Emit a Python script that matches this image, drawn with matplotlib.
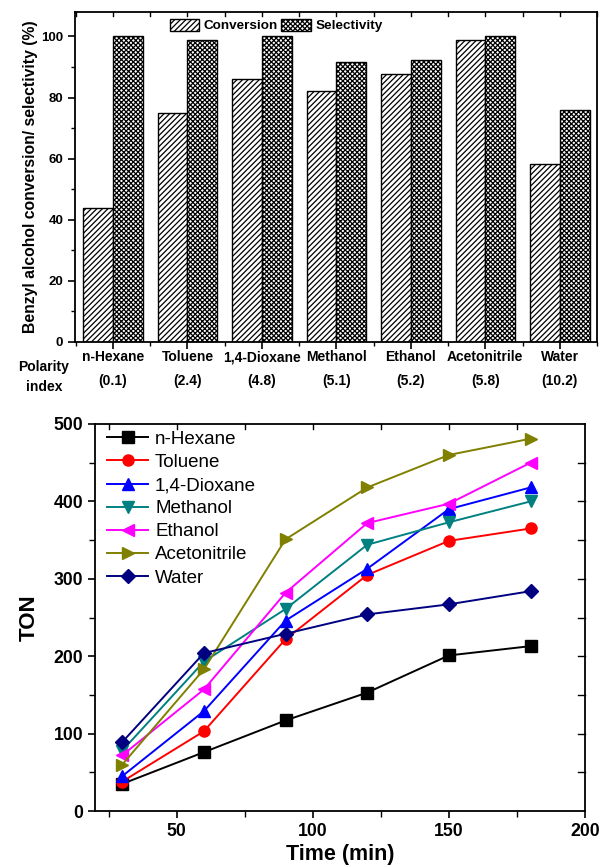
import matplotlib
matplotlib.use("Agg")
import matplotlib.pyplot as plt
import numpy as np

plt.rcParams['font.family'] = ['Liberation Sans', 'DejaVu Sans']
plt.rcParams['hatch.linewidth'] = 0.9

# top panel: conversion / selectivity per solvent
solvents = ["n-Hexane", "Toluene", "1,4-Dioxane", "Methanol", "Ethanol", "Acetonitrile", "Water"]
polarity = ["(0.1)", "(2.4)", "(4.8)", "(5.1)", "(5.2)", "(5.8)", "(10.2)"]
conversion = [44.0, 75.0, 86.0, 82.3, 87.7, 98.8, 58.3]
selectivity = [100.0, 99.0, 100.0, 91.8, 92.3, 100.0, 76.0]

# bottom panel: TON vs time
time_min = [30, 60, 90, 120, 150, 180]
ton_hexane = [35, 76, 117, 153, 201, 213]
ton_toluene = [38, 103, 222, 305, 349, 365]
ton_dioxane = [45, 129, 246, 313, 390, 418]
ton_methanol = [78, 193, 261, 344, 373, 400]
ton_ethanol = [72, 157, 282, 372, 397, 450]
ton_acetonitrile = [60, 183, 351, 418, 460, 481]
ton_water = [89, 204, 229, 254, 267, 284]

fig = plt.figure(figsize=(6.0, 8.67), dpi=100)

# ---------- top bar chart ----------
ax1 = fig.add_axes([75 / 600, 525 / 867, 522 / 600, 330 / 867])
x = np.arange(len(solvents))
w = 0.4
ax1.bar(x - w / 2, conversion, w, color="white", edgecolor="black", hatch="//////",
        linewidth=1.0, label="Conversion")
ax1.bar(x + w / 2, selectivity, w, color="white", edgecolor="black", hatch="xxxxxxx",
        linewidth=1.0, label="Selectivity")
ax1.set_xlim(-0.51, 6.46)
ax1.set_ylim(0, 108)
ax1.set_yticks(np.arange(0, 101, 20))
ax1.set_yticks(np.arange(10, 101, 20), minor=True)
ax1.set_xticks(x)
ax1.set_xticks(np.arange(-0.5, 7, 1), minor=True)
ax1.set_xticklabels([])
ax1.tick_params(axis="both", which="major", direction="out", length=5, width=1.2,
                labelsize=9.5, top=False, right=False)
ax1.tick_params(axis="both", which="minor", direction="out", length=3, width=1.0,
                top=False, right=False)
for t in ax1.get_yticklabels():
    t.set_fontweight("bold")
# inward ticks on the top spine
for xv in np.arange(-0.5, 7, 0.5):
    ax1.plot([xv, xv], [108, 106.6], color="black", lw=1.0, clip_on=False)
for s in ax1.spines.values():
    s.set_linewidth(1.3)
ax1.set_ylabel("Benzyl alcohol conversion/ selectivity (%)", fontsize=11.3, fontweight="bold", labelpad=2)
for i in range(len(solvents)):
    ax1.annotate(solvents[i], xy=(x[i], 0), xycoords=("data", "axes fraction"),
                 xytext=(0, -15), textcoords="offset pixels", ha="center", va="center",
                 fontsize=10, fontweight="bold")
    ax1.annotate(polarity[i], xy=(x[i], 0), xycoords=("data", "axes fraction"),
                 xytext=(0, -39), textcoords="offset pixels", ha="center", va="center",
                 fontsize=10, fontweight="bold")
fig.text(44 / 600, 1 - 367 / 867, "Polarity", ha="center", va="center", fontsize=10, fontweight="bold")
fig.text(44 / 600, 1 - 387 / 867, "index", ha="center", va="center", fontsize=10, fontweight="bold")
ax1.legend(loc="upper center", bbox_to_anchor=(0.385, 1.017), ncol=2, frameon=False,
           prop={"weight": "bold", "size": 9.7}, handlelength=2.2, handleheight=1.0,
           columnspacing=0.3, handletextpad=0.3)

# ---------- bottom line chart ----------
ax2 = fig.add_axes([95 / 600, 56 / 867, 490 / 600, 387 / 867])
series = [
    ("n-Hexane", ton_hexane, "black", "s"),
    ("Toluene", ton_toluene, "red", "o"),
    ("1,4-Dioxane", ton_dioxane, "blue", "^"),
    ("Methanol", ton_methanol, "#008080", "v"),
    ("Ethanol", ton_ethanol, "magenta", "<"),
    ("Acetonitrile", ton_acetonitrile, "#808000", ">"),
    ("Water", ton_water, "#000080", "D"),
]
for name, vals, col, mk in series:
    ms = 7 if mk == "D" else 8
    ax2.plot(time_min, vals, color=col, marker=mk, markersize=ms, lw=1.4, label=name)
ax2.set_xlim(20, 200)
ax2.set_ylim(0, 500)
ax2.set_xticks([50, 100, 150, 200])
ax2.set_xticks([25, 75, 125, 175], minor=True)
ax2.set_yticks(np.arange(0, 501, 100))
ax2.set_yticks(np.arange(50, 500, 100), minor=True)
ax2.tick_params(axis="both", which="major", direction="out", length=5, width=1.2,
                labelsize=12.7, top=False, right=False)
ax2.tick_params(axis="both", which="minor", direction="out", length=4, width=1.0,
                top=False, right=False)
for t in ax2.get_xticklabels() + ax2.get_yticklabels():
    t.set_fontweight("bold")
# inward ticks on right and top spines
for yv in np.arange(50, 500, 50):
    ax2.plot([200, 197.5], [yv, yv], color="black", lw=1.0, clip_on=False)
for xv in [25, 50, 75, 100, 125, 150, 175]:
    ax2.plot([xv, xv], [500, 493], color="black", lw=1.0, clip_on=False)
for s in ax2.spines.values():
    s.set_linewidth(1.3)
ax2.set_xlabel("Time (min)", fontsize=15.5, fontweight="bold", labelpad=3)
ax2.set_ylabel("TON", fontsize=16, fontweight="bold", labelpad=10)
ax2.legend(loc="upper left", bbox_to_anchor=(0.009, 1.002), frameon=False, fontsize=13.5,
           handlelength=2.2, labelspacing=0.32, handletextpad=0.37, borderaxespad=0)

fig.savefig("out.png", dpi=100)
